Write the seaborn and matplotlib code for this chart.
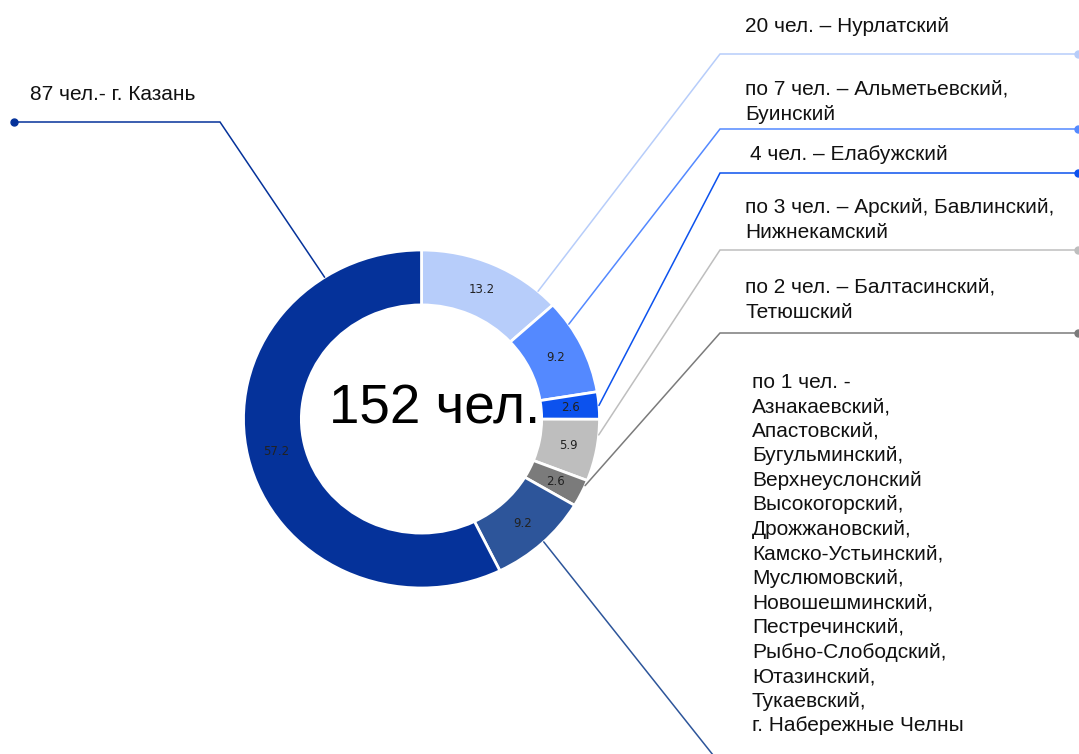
import numpy as np
import matplotlib
matplotlib.use('Agg')
import matplotlib.pyplot as plt
import seaborn as sb

# -------------------------------
# DATA (percent of 152 people, clockwise from 12 o'clock)
# -------------------------------
shares = [13.2, 9.2, 2.6, 5.9, 2.6, 9.2, 57.2]
share_labels = ['13.2', '9.2', '2.6', '5.9', '2.6', '9.2', '57.2']
colors = ['#B7CDFA', '#5489FF', '#0C52EE', '#BEBEBE', '#7B7B7B', '#2D559A', '#05329A']
total_text = '152 чел.'

callouts = [
    '20 чел. – Нурлатский',
    'по 7 чел. – Альметьевский,\nБуинский',
    '4 чел. – Елабужский',
    'по 3 чел. – Арский, Бавлинский,\nНижнекамский',
    'по 2 чел. – Балтасинский,\nТетюшский',
    'по 1 чел. -\nАзнакаевский,\nАпастовский,\nБугульминский,\nВерхнеуслонский\n'
    'Высокогорский,\nДрожжановский,\nКамско-Устьинский,\nМуслюмовский,\n'
    'Новошешминский,\nПестречинский,\nРыбно-Слободский,\nЮтазинский,\n'
    'Тукаевский,\nг. Набережные Челны',
    '87 чел.- г. Казань',
]

# -------------------------------
# LAYOUT (pixels, origin top-left)
# -------------------------------
W, H = 1079, 754
text_pos = [(745, 27), (745, 102), (750, 154), (745, 220), (745, 300), (752, 554), (30, 95)]
line_gap = [1.43, 1.43, 1.43, 1.43, 1.43, 1.37, 1.43]
# where each leader leaves its wedge (fraction between theta1 and theta2)
leader_frac = [0.14, 0.75, 0.5, 0.75, 0.8, 0.52, 0.16]
# elbow point and end dot of each leader (None = runs off the picture)
elbows = [(720, 54), (720, 129), (720, 173), (720, 250), (720, 333), None, (220, 122)]
dots = [(1078, 54), (1078, 129), (1078, 173), (1078, 250), (1078, 333), None, (14, 122)]

sb.set_theme(style='white')
plt.rcParams['font.family'] = ['Liberation Sans', 'DejaVu Sans']

fig = plt.figure(figsize=(W / 100, H / 100), dpi=100)
fig.patch.set_facecolor('white')

# donut axes (slightly wider than tall, like the original)
left, right, top, bottom = 243.5, 599.5, 250, 588
ax_pie = fig.add_axes([left / W, 1 - bottom / H, (right - left) / W, (bottom - top) / H])

wedges, texts = ax_pie.pie(
    shares, colors=sb.color_palette(colors), startangle=90, counterclock=False,
    radius=1, wedgeprops=dict(width=0.325, edgecolor='white', linewidth=2),
    labels=share_labels, labeldistance=0.84,
    textprops=dict(fontsize=8.5, family='DejaVu Sans', color='#222222', ha='center', va='center'),
)
ax_pie.set_xlim(-1, 1)
ax_pie.set_ylim(-1, 1)
ax_pie.set_aspect('auto')
ax_pie.axis('off')

# overlay axes in pixel coordinates
ax = fig.add_axes([0, 0, 1, 1])
ax.set_xlim(0, W)
ax.set_ylim(H, 0)
ax.axis('off')

ax.text(435, 410, total_text, fontsize=39.5, ha='center', va='center', color='black')

to_px = ax_pie.transData + ax.transData.inverted()
for i, w in enumerate(wedges):
    ang = np.deg2rad(w.theta1 + leader_frac[i] * (w.theta2 - w.theta1))
    sx, sy = to_px.transform((np.cos(ang), np.sin(ang)))
    col = colors[i]
    if elbows[i] is not None:
        ex, ey = elbows[i]
        dx, dy = dots[i]
        ax.plot([sx, ex, dx], [sy, ey, dy], color=col, lw=1.1, solid_joinstyle='miter')
        ax.plot(dx, dy, 'o', color=col, ms=5)
    else:
        # straight leader running down out of the picture
        ax.plot([sx, 717], [sy, 760], color=col, lw=1.1)

for i, txt in enumerate(callouts):
    x, y = text_pos[i]
    ax.text(x, y, txt, fontsize=15, ha='left', va='center', linespacing=line_gap[i], color='#111111')

fig.savefig('out.png', dpi=100)
